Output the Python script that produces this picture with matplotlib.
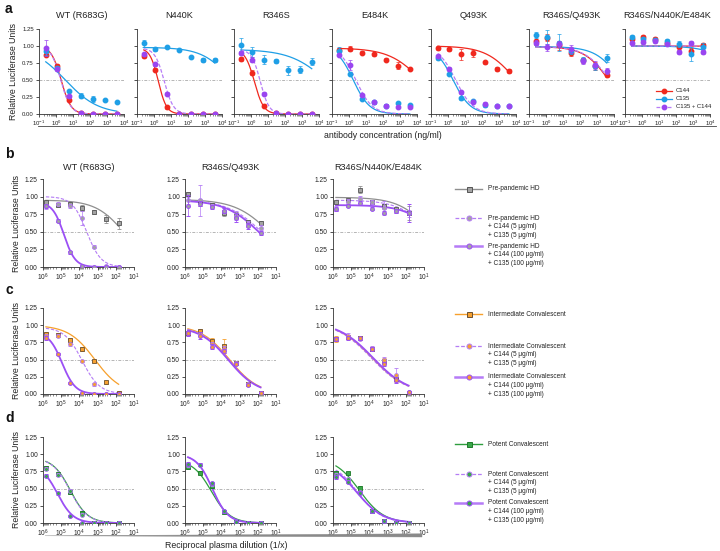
import numpy as np
import matplotlib
matplotlib.use("Agg")
import matplotlib.pyplot as plt
from matplotlib.ticker import LogLocator, FormatStrFormatter, NullFormatter
from matplotlib.patches import Polygon

plt.rcParams['font.family'] = ['Liberation Sans', 'DejaVu Sans']
plt.rcParams['mathtext.fontset'] = 'custom'
plt.rcParams['mathtext.rm'] = 'Liberation Sans'

# ---------------- DATA: panel a (antibody titrations) ----------------
a_titles = ["WT (R683G)", "N440K", "R346S", "E484K", "Q493K", "R346S/Q493K", "R346S/N440K/E484K"]
conc_ng = [0.25, 1.2, 6.0, 30.0, 150.0, 750.0, 3750.0]

c144_rlu = [
    [0.87, 0.70, 0.21, 0.01, 0.00, 0.00, 0.00],
    [0.85, 0.65, 0.10, 0.00, 0.00, 0.00, 0.00],
    [0.81, 0.61, 0.12, 0.01, 0.00, 0.00, 0.00],
    [0.94, 0.96, 0.90, 0.88, 0.80, 0.71, 0.66],
    [0.97, 0.95, 0.88, 0.89, 0.76, 0.66, 0.63],
    [1.08, 1.12, 1.01, 0.90, 0.79, 0.71, 0.57],
    [1.11, 1.13, 1.10, 1.05, 0.98, 0.92, 1.01],
]
c144_err = [
    [0.02, 0.03, 0.02, 0.01, 0.00, 0.00, 0.00],
    [0.03, 0.02, 0.02, 0.00, 0.00, 0.00, 0.00],
    [0.03, 0.04, 0.02, 0.01, 0.00, 0.00, 0.00],
    [0.03, 0.04, 0.02, 0.02, 0.02, 0.05, 0.02],
    [0.03, 0.02, 0.08, 0.05, 0.02, 0.03, 0.03],
    [0.06, 0.05, 0.07, 0.05, 0.04, 0.06, 0.03],
    [0.03, 0.03, 0.03, 0.03, 0.04, 0.05, 0.04],
]
c135_rlu = [
    [0.92, 0.68, 0.34, 0.27, 0.22, 0.21, 0.18],
    [1.04, 0.96, 0.99, 0.94, 0.84, 0.80, 0.80],
    [1.02, 0.91, 0.80, 0.78, 0.64, 0.65, 0.77],
    [0.93, 0.59, 0.22, 0.17, 0.12, 0.16, 0.13],
    [0.83, 0.59, 0.23, 0.19, 0.13, 0.12, 0.12],
    [1.16, 1.13, 1.05, 0.92, 0.80, 0.70, 0.82],
    [1.13, 1.10, 1.09, 1.08, 1.03, 0.88, 0.99],
]
c135_err = [
    [0.05, 0.03, 0.02, 0.04, 0.05, 0.01, 0.01],
    [0.05, 0.03, 0.01, 0.01, 0.02, 0.03, 0.03],
    [0.10, 0.07, 0.07, 0.03, 0.07, 0.05, 0.05],
    [0.05, 0.02, 0.02, 0.02, 0.02, 0.02, 0.02],
    [0.03, 0.02, 0.02, 0.02, 0.02, 0.01, 0.01],
    [0.04, 0.10, 0.12, 0.04, 0.04, 0.05, 0.06],
    [0.03, 0.03, 0.03, 0.03, 0.05, 0.10, 0.05],
]
combo_rlu = [
    [0.97, 0.66, 0.26, 0.02, 0.00, 0.00, 0.00],
    [0.88, 0.73, 0.30, 0.00, 0.00, 0.00, 0.00],
    [0.90, 0.80, 0.30, 0.02, 0.00, 0.00, 0.00],
    [0.87, 0.72, 0.28, 0.17, 0.12, 0.11, 0.11],
    [0.85, 0.66, 0.32, 0.18, 0.15, 0.12, 0.12],
    [1.05, 0.98, 1.03, 0.96, 0.78, 0.72, 0.63],
    [1.05, 1.06, 1.07, 1.03, 0.91, 1.05, 0.91],
]
combo_err = [
    [0.12, 0.03, 0.02, 0.01, 0.00, 0.00, 0.00],
    [0.02, 0.02, 0.02, 0.00, 0.00, 0.00, 0.00],
    [0.03, 0.04, 0.02, 0.01, 0.00, 0.00, 0.00],
    [0.02, 0.07, 0.02, 0.02, 0.02, 0.01, 0.01],
    [0.02, 0.03, 0.02, 0.02, 0.02, 0.01, 0.01],
    [0.04, 0.05, 0.04, 0.06, 0.05, 0.06, 0.04],
    [0.02, 0.03, 0.02, 0.02, 0.03, 0.03, 0.03],
]
# fitted curve parameters (top, bottom, log10 IC50, hill slope)
c144_fit = [(1.0, 0, 0.30, 1.5), (0.97, 0, 0.25, 1.8), (0.95, 0, 0.20, 1.6), (0.97, 0, 4.3, 0.45),
            (1.0, 0, 4.0, 0.5), (0.99, 0, 3.7, 0.6), (1.0, 0, 9.0, 0.5)]
c135_fit = [(1.0, 0, 0.55, 0.45), (0.98, 0, 4.6, 0.5), (0.95, 0, 4.5, 0.4), (1.0, 0, 0.25, 0.9),
            (1.0, 0, 0.30, 0.85), (0.99, 0, 4.4, 0.6), (1.0, 0, 6.0, 0.5)]
combo_fit = [(1.0, 0, 0.28, 1.5), (0.97, 0, 0.60, 1.6), (0.95, 0, 0.55, 1.7), (1.0, 0, 0.40, 0.9),
             (1.0, 0, 0.45, 0.85), (0.99, 0, 3.75, 0.6), (1.0, 0, 9.0, 0.5)]

# ---------------- DATA: panels b-d (plasma titrations) ----------------
bd_titles = ["WT (R683G)", "R346S/Q493K", "R346S/N440K/E484K"]
dilution = [690000, 150000, 32000, 7000, 1500, 330, 70]

b_plasma = [[0.92, 0.88, 0.90, 0.84, 0.78, 0.68, 0.62],
            [1.04, 0.92, 0.88, 0.77, 0.73, 0.64, 0.62],
            [0.92, 0.95, 1.10, 0.93, 0.86, 0.82, 0.77]]
b_low = [[0.86, 0.90, 0.87, 0.69, 0.29, 0.02, 0.00],
         [0.95, 0.95, 0.87, 0.80, 0.73, 0.61, 0.56],
         [0.83, 0.93, 0.96, 0.92, 0.84, 0.80, 0.76]]
b_high = [[0.86, 0.66, 0.21, 0.02, 0.00, 0.00, 0.00],
          [0.87, 0.90, 0.85, 0.80, 0.70, 0.58, 0.48],
          [0.82, 0.87, 0.91, 0.83, 0.77, 0.80, 0.77]]
b_plasma_err = [[0.02, 0.03, 0.03, 0.04, 0.03, 0.06, 0.08],
                [0.03, 0.05, 0.03, 0.04, 0.05, 0.03, 0.03],
                [0.02, 0.02, 0.05, 0.02, 0.03, 0.02, 0.10]]
b_low_err = [[0.03, 0.02, 0.03, 0.10, 0.02, 0.01, 0.00],
             [0.05, 0.22, 0.03, 0.04, 0.06, 0.04, 0.03],
             [0.03, 0.03, 0.05, 0.03, 0.10, 0.03, 0.05]]
b_high_err = [[0.02, 0.02, 0.02, 0.01, 0.00, 0.00, 0.00],
              [0.15, 0.04, 0.03, 0.04, 0.06, 0.04, 0.03],
              [0.03, 0.02, 0.03, 0.02, 0.02, 0.03, 0.13]]

c_plasma = [[0.87, 0.86, 0.79, 0.65, 0.48, 0.17, 0.02],
            [0.89, 0.92, 0.77, 0.70, 0.45, 0.15, 0.02],
            [0.80, 0.83, 0.81, 0.65, 0.48, 0.22, 0.02]]
c_low = [[0.85, 0.85, 0.72, 0.48, 0.14, 0.00, 0.00],
         [0.88, 0.87, 0.72, 0.66, 0.45, 0.14, 0.02],
         [0.80, 0.85, 0.80, 0.67, 0.50, 0.28, 0.03]]
c_high = [[0.81, 0.58, 0.16, 0.01, 0.00, 0.00, 0.00],
          [0.88, 0.85, 0.69, 0.62, 0.44, 0.13, 0.02],
          [0.80, 0.82, 0.81, 0.65, 0.44, 0.20, 0.03]]
c_plasma_err = [[0.03, 0.02, 0.02, 0.03, 0.02, 0.02, 0.02],
                [0.03, 0.03, 0.05, 0.10, 0.02, 0.02, 0.01],
                [0.04, 0.03, 0.02, 0.03, 0.04, 0.04, 0.01]]
c_low_err = [[0.02, 0.02, 0.02, 0.02, 0.02, 0.01, 0.01],
             [0.03, 0.03, 0.04, 0.04, 0.02, 0.02, 0.01],
             [0.03, 0.03, 0.02, 0.03, 0.04, 0.10, 0.01]]
c_high_err = [[0.03, 0.02, 0.02, 0.01, 0.00, 0.00, 0.00],
              [0.03, 0.05, 0.03, 0.03, 0.02, 0.02, 0.01],
              [0.03, 0.03, 0.02, 0.03, 0.03, 0.04, 0.01]]

d_plasma = [[0.80, 0.71, 0.45, 0.14, 0.00, 0.00, 0.00],
            [0.82, 0.73, 0.54, 0.16, 0.02, 0.00, 0.00],
            [0.72, 0.72, 0.51, 0.18, 0.03, 0.00, 0.00]]
d_low = [[0.79, 0.70, 0.47, 0.12, 0.00, 0.00, 0.00],
         [0.84, 0.85, 0.57, 0.17, 0.02, 0.00, 0.00],
         [0.70, 0.64, 0.45, 0.17, 0.02, 0.00, 0.00]]
d_high = [[0.69, 0.43, 0.10, 0.00, 0.00, 0.00, 0.00],
          [0.86, 0.85, 0.58, 0.17, 0.02, 0.00, 0.00],
          [0.67, 0.60, 0.44, 0.17, 0.03, 0.00, 0.00]]
d_plasma_err = [[0.03, 0.02, 0.03, 0.03, 0.00, 0.00, 0.00],
                [0.03, 0.02, 0.03, 0.02, 0.01, 0.00, 0.00],
                [0.04, 0.02, 0.03, 0.02, 0.01, 0.00, 0.00]]
d_low_err = [[0.02, 0.02, 0.02, 0.02, 0.00, 0.00, 0.00],
             [0.03, 0.02, 0.03, 0.02, 0.01, 0.00, 0.00],
             [0.03, 0.02, 0.02, 0.02, 0.01, 0.00, 0.00]]
d_high_err = [[0.02, 0.02, 0.02, 0.00, 0.00, 0.00, 0.00],
              [0.02, 0.02, 0.02, 0.02, 0.01, 0.00, 0.00],
              [0.03, 0.02, 0.02, 0.02, 0.01, 0.00, 0.00]]

b_plasma_fit = [(0.95, 0, 1.5, 0.55), (0.96, 0, 1.3, 0.45), (0.99, 0, 0.6, 0.5)]
b_low_fit = [(1.0, 0, 3.6, 1.1), (0.95, 0, 1.7, 0.45), (0.95, 0, 0.6, 0.5)]
b_high_fit = [(0.92, 0, 4.85, 1.4), (0.95, 0, 1.85, 0.45), (0.88, 0, 0.2, 0.5)]
c_plasma_fit = [(1.0, 0, 3.15, 0.6), (1.0, 0, 3.55, 0.55), (1.05, 0, 3.85, 0.45)]
c_low_fit = [(0.97, 0, 3.85, 0.9), (0.99, 0, 3.58, 0.55), (1.05, 0, 3.9, 0.45)]
c_high_fit = [(0.9, 0, 4.95, 1.2), (0.98, 0, 3.6, 0.55), (1.05, 0, 3.8, 0.45)]
d_plasma_fit = [(0.95, 0, 4.5, 0.9), (0.92, 0, 4.55, 0.85), (0.95, 0, 4.55, 0.65)]
d_low_fit = [(0.95, 0, 4.52, 0.9), (1.0, 0, 4.5, 1.0), (0.9, 0, 4.65, 0.65)]
d_high_fit = [(0.85, 0, 5.2, 1.0), (1.0, 0, 4.5, 1.0), (0.9, 0, 4.7, 0.6)]

row_plasma_names = ["Pre-pandemic HD", "Intermediate Convalescent", "Potent Convalescent"]
low_dose_lines = ["+ C144 (5 μg/ml)", "+ C135 (5 μg/ml)"]
high_dose_lines = ["+ C144 (100 μg/ml)", "+ C135 (100 μg/ml)"]

# ---------------- STYLE ----------------
RED, BLUE, PURPLE = '#f0281e', '#1f9fe6', '#9a45f0'
PURPLE_SOLID, PURPLE_DASH = '#9b4ff5', '#b47cf5'
row_colors = ['#a3a3a3', '#f5a030', '#3aa84a']
row_line_colors = ['#8f8f8f', '#f7a02c', '#2e9e3e']
row_edge = ['#555555', '#6b5030', '#1f7a2a']
AXC = '#333333'
W, H = 720, 551

fig = plt.figure(figsize=(7.2, 5.51), dpi=100)


def add_ax(left, top, width, bottom):
    return fig.add_axes([left / W, 1 - bottom / H, width / W, (bottom - top) / H])


def style_ax(ax, xlim, showylab=True, fs=4.8):
    ax.set_xscale('log')
    ax.set_xlim(*xlim)
    ax.set_ylim(0, 1.25)
    ax.set_yticks([0, 0.25, 0.5, 0.75, 1.0, 1.25])
    ax.yaxis.set_major_formatter(FormatStrFormatter('%.2f'))
    if not showylab:
        ax.set_yticklabels([])
    ax.xaxis.set_major_locator(LogLocator(base=10, numticks=20))
    ax.xaxis.set_minor_locator(LogLocator(base=10, subs=np.arange(2, 10), numticks=20))
    ax.xaxis.set_minor_formatter(NullFormatter())
    for s in ['top', 'right']:
        ax.spines[s].set_visible(False)
    for s in ['left', 'bottom']:
        ax.spines[s].set_linewidth(0.6)
        ax.spines[s].set_color(AXC)
    ax.tick_params(axis='both', which='major', labelsize=fs, length=2.5, width=0.6,
                   pad=1.2, colors=AXC, labelcolor='#222222')
    ax.tick_params(axis='x', which='minor', length=1.3, width=0.4, colors=AXC)
    ax.patch.set_alpha(0)
    ax.axhline(0.5, color='#b5b5b5', lw=0.7, dashes=(3, 1.5, 1, 1.5), zorder=0)


def hill_a(logx, p):
    top, bottom, mid, s = p
    return bottom + (top - bottom) / (1 + 10 ** (s * (logx - mid)))


def hill_d(logx, p):
    top, bottom, mid, s = p
    return bottom + (top - bottom) / (1 + 10 ** (s * (mid - logx)))


# ---------------- PANEL a ----------------
a_lefts = [39, 137, 234, 332, 431, 529, 625]
a_width = 85
a_top, a_bottom = 29, 114
lx_a = np.linspace(np.log10(conc_ng[0]), np.log10(conc_ng[-1]), 200)
a_axes = []
for i in range(7):
    ax = add_ax(a_lefts[i], a_top, a_width, a_bottom)
    style_ax(ax, (0.1, 10000), showylab=(i == 0), fs=4.3)
    series = [(c144_rlu[i], c144_err[i], c144_fit[i], RED, '-'),
              (c135_rlu[i], c135_err[i], c135_fit[i], BLUE, '-'),
              (combo_rlu[i], combo_err[i], combo_fit[i], PURPLE, '--')]
    for k, (vals, errs, fit, col, ls) in enumerate(series):
        lc = col if ls == '-' else '#b77cf7'
        ax.plot(10 ** lx_a, hill_a(lx_a, fit), color=lc, lw=0.9, ls=ls,
                dashes=(3, 1.5) if ls == '--' else (None, None), zorder=2 + k)
        ax.errorbar(conc_ng, vals, yerr=errs, fmt='o', ms=3.2, color=col, mec=col,
                    ecolor=col, elinewidth=0.5, capsize=1.2, capthick=0.5, zorder=5 + k)
    a_axes.append(ax)
a_axes[0].set_ylabel("Relative Luciferase Units", fontsize=6.3, labelpad=3, color='#222222')

# ---------------- PANELS b-d ----------------
bd_lefts = [43, 185, 333]
bd_width = 91
bd_rows = [(179, 267), (308, 394), (437, 523)]
plasma_rows = [b_plasma, c_plasma, d_plasma]
low_rows = [b_low, c_low, d_low]
high_rows = [b_high, c_high, d_high]
plasma_err_rows = [b_plasma_err, c_plasma_err, d_plasma_err]
low_err_rows = [b_low_err, c_low_err, d_low_err]
high_err_rows = [b_high_err, c_high_err, d_high_err]
plasma_fit_rows = [b_plasma_fit, c_plasma_fit, d_plasma_fit]
low_fit_rows = [b_low_fit, c_low_fit, d_low_fit]
high_fit_rows = [b_high_fit, c_high_fit, d_high_fit]
lx_d = np.linspace(np.log10(dilution[0]), np.log10(dilution[-1]), 200)

for r in range(3):
    top, bot = bd_rows[r]
    for j in range(3):
        ax = add_ax(bd_lefts[j], top, bd_width, bot)
        style_ax(ax, (1e6, 1e1), showylab=True, fs=4.8)
        fc = row_colors[r]
        ax.plot(10 ** lx_d, hill_d(lx_d, plasma_fit_rows[r][j]), color=row_line_colors[r], lw=0.9, zorder=2)
        ax.plot(10 ** lx_d, hill_d(lx_d, low_fit_rows[r][j]), color=PURPLE_DASH, lw=0.8,
                dashes=(3, 1.5), zorder=3)
        ax.plot(10 ** lx_d, hill_d(lx_d, high_fit_rows[r][j]), color=PURPLE_SOLID, lw=1.3, zorder=4)
        ax.errorbar(dilution, plasma_rows[r][j], yerr=plasma_err_rows[r][j], fmt='s', ms=2.8,
                    mfc=fc, mec=row_edge[r], mew=0.6, ecolor=row_line_colors[r], elinewidth=0.5,
                    capsize=1.2, capthick=0.5, zorder=6)
        ax.errorbar(dilution, low_rows[r][j], yerr=low_err_rows[r][j], fmt='o', ms=2.8,
                    mfc=fc, mec=PURPLE_DASH, mew=0.6, ecolor=PURPLE_DASH, elinewidth=0.5,
                    capsize=1.2, capthick=0.5, zorder=7)
        ax.errorbar(dilution, high_rows[r][j], yerr=high_err_rows[r][j], fmt='o', ms=2.8,
                    mfc=fc, mec=PURPLE_SOLID, mew=0.7, ecolor=PURPLE_SOLID, elinewidth=0.5,
                    capsize=1.2, capthick=0.5, zorder=8)
        if j == 0:
            ax.set_ylabel("Relative Luciferase Units", fontsize=6.3, labelpad=3, color='#222222')

# ---------------- overlay: titles, labels, legends ----------------
ov = fig.add_axes([0, 0, 1, 1], zorder=20)
ov.set_xlim(0, W)
ov.set_ylim(H, 0)
ov.axis('off')
ov.patch.set_alpha(0)

for lbl, y in zip(['a', 'b', 'c', 'd'], [9, 154, 290, 418]):
    ov.text(5, y, lbl, fontsize=10, fontweight='bold', ha='left', va='center', color='#111111')

for i, t in enumerate(a_titles):
    ov.text(a_lefts[i] + a_width / 2, 15, t, fontsize=6.6, ha='center', va='center', color='#222222')
for j, t in enumerate(bd_titles):
    ov.text(bd_lefts[j] + bd_width / 2, 168, t, fontsize=6.6, ha='center', va='center', color='#222222')

ov.plot([38, 716], [126, 126], color='#444444', lw=0.6)
ov.text(383, 136, "antibody concentration (ng/ml)", fontsize=6.3, ha='center', va='center', color='#222222')

ov.add_patch(Polygon([[45, 535.8], [422, 533.8], [422, 537.0]], closed=True,
                     facecolor='#8a8a8a', edgecolor='#8a8a8a', lw=0.3))
ov.text(226, 546, "Reciprocal plasma dilution (1/x)", fontsize=6.3, ha='center', va='center', color='#222222')

# panel a legend
leg_a = [("C144", RED, '-'), ("C135", BLUE, '-'), ("C135 + C144", PURPLE, '--')]
for k, (txt, col, ls) in enumerate(leg_a):
    y = 91 + 8 * k
    lc = col if ls == '-' else '#b77cf7'
    ov.plot([656, 672], [y, y], color=lc, lw=0.9, ls=ls, dashes=(3, 1.5) if ls == '--' else (None, None))
    ov.plot([664], [y], 'o', ms=3.2, color=col)
    ov.text(676, y, txt, fontsize=4.3, ha='left', va='center', color='#222222')

# panels b-d legends
FS_LEG = 4.7
leg_y = [(189, 218, 246), (314, 346, 377), (444, 474, 503)]
for r in range(3):
    y1, y2, y3 = leg_y[r]
    name = row_plasma_names[r]
    fc = row_colors[r]
    ov.plot([455, 482], [y1, y1], color=row_line_colors[r], lw=1.0)
    ov.plot([468.5], [y1], 's', ms=3.6, mfc=fc, mec=row_edge[r], mew=0.7)
    ov.text(488, y1, name, fontsize=FS_LEG, ha='left', va='center', color='#222222')

    ov.plot([455, 482], [y2, y2], color=PURPLE_DASH, lw=0.9, dashes=(3, 1.5))
    ov.plot([468.5], [y2], 'o', ms=3.6, mfc=fc, mec=PURPLE_DASH, mew=0.7)
    ov.text(488, y2, name, fontsize=FS_LEG, ha='left', va='center', color='#222222')
    ov.text(488, y2 + 8.6, low_dose_lines[0], fontsize=FS_LEG, ha='left', va='center', color='#222222')
    ov.text(488, y2 + 17.2, low_dose_lines[1], fontsize=FS_LEG, ha='left', va='center', color='#222222')

    ov.plot([455, 482], [y3, y3], color='#b57bf7', lw=1.8)
    ov.plot([468.5], [y3], 'o', ms=3.6, mfc=fc, mec=PURPLE_SOLID, mew=0.7)
    ov.text(488, y3, name, fontsize=FS_LEG, ha='left', va='center', color='#222222')
    ov.text(488, y3 + 8.6, high_dose_lines[0], fontsize=FS_LEG, ha='left', va='center', color='#222222')
    ov.text(488, y3 + 17.2, high_dose_lines[1], fontsize=FS_LEG, ha='left', va='center', color='#222222')

fig.savefig("out.png", dpi=100)
